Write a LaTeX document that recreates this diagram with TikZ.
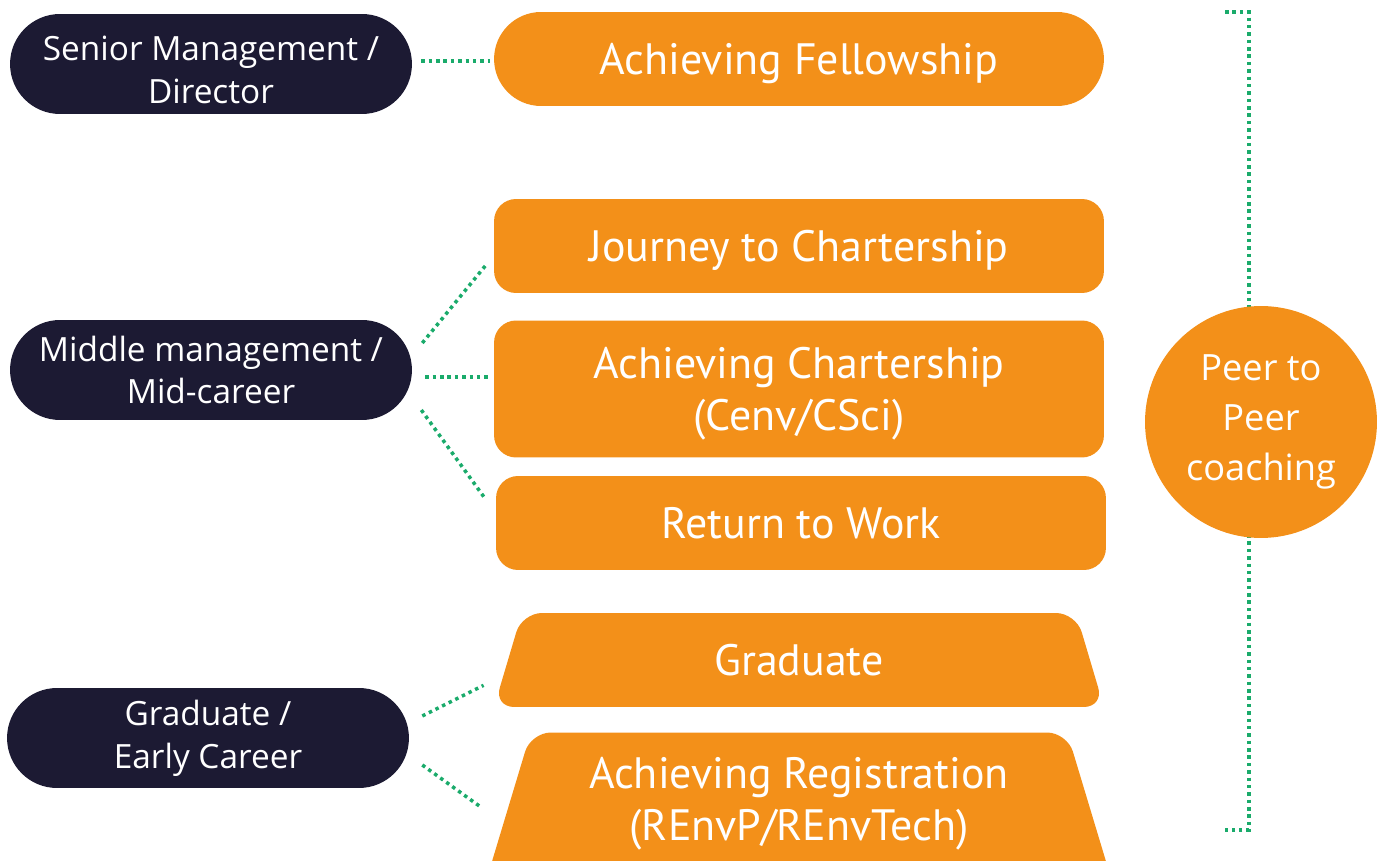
\documentclass[tikz,border=0pt]{standalone}
\usepackage{fontspec}
\setmainfont{Open Sans}
\newfontfamily\stagefont{PT Sans}
\usetikzlibrary{shapes.geometric,calc}
\definecolor{navy}{HTML}{1C1A33}
\definecolor{amber}{HTML}{F39019}
\definecolor{mint}{HTML}{1AAB6B}
\tikzstyle{level}=[rectangle,fill=navy,text=white,minimum width=8.04cm,minimum height=2cm,rounded corners=1cm,align=center,font=\fontsize{19}{24.4}\selectfont]
\tikzstyle{stage}=[rectangle,fill=amber,text=white,minimum width=12.2cm,minimum height=1.88cm,rounded corners=0.44cm,align=center,text depth=0pt,font=\stagefont\fontsize{25}{30}\selectfont]
\tikzstyle{ramp}=[stage,trapezium,trapezium angle=57,trapezium stretches body,rounded corners=0.4cm]
\tikzstyle{peer}=[circle,fill=amber,text=white,minimum size=4.64cm,inner sep=0pt,align=center,font=\fontsize{20.6}{28.4}\selectfont]
\tikzstyle{link}=[draw=mint,line width=2pt,dash pattern=on 2pt off 2.2pt]

\begin{document}
\begin{tikzpicture}[x=0.02cm,y=-0.02cm]
	\useasboundingbox (0,0) rectangle (1384,861);
	\def \lx {211};
	\def \sx {799};

	% career levels
	\node[level,text height=45pt,text depth=0pt] (senior) at (\lx,64) {Senior Management /\\Director};
	\node[level] (middle) at (\lx,370) {Middle management /\\Mid-career};
	\node[level] (early) at (\lx-3,738) {Graduate /\\Early Career};

	% programmes
	\node[stage,rounded corners=0.94cm] (fellow) at (\sx,59) {Achieving Fellowship};
	\node[stage] (journey) at (\sx,246) {Journey to Chartership};
	\node[stage,minimum height=2.74cm] (charter) at (\sx,389) {Achieving Chartership\\(Cenv/CSci)};
	\node[stage] (return) at (\sx+2,523) {Return to Work};
	\node[ramp] (grad) at (\sx,660) {Graduate};
	\node[ramp,trapezium angle=68,minimum width=12.5cm,minimum height=2.94cm,text depth=0.28cm] (reg) at (\sx,806) {Achieving Registration\\(REnvP/REnvTech)};

	\draw[link] ([shift={(9,-3)}]senior.east) -- ([shift={(-4,2)}]fellow.west);
	\draw[link] ([shift={(10,-27)}]middle.east) -- ([shift={(-8,-28)}]journey.south west);
	\draw[link] ([shift={(13,7)}]middle.east) -- ([shift={(-4,-12)}]charter.west);
	\draw[link] ([shift={(9,40)}]middle.east) -- ([shift={(-12,21)}]return.north west);
	\draw[link] ([shift={(13,-22)}]early.east) -- ([shift={(-10,-22)}]grad.bottom left corner);
	\draw[link] ([shift={(13,27)}]early.east) -- ([shift={(-7,-74)}]reg.bottom left corner);

	% bracket and coaching
	\coordinate (brt) at (1225,12);
	\coordinate (brb) at (1225,830);
	\draw[link] (brt) -- ++(24,0) |- (brb);
	\node[peer] (p2p) at (1261,422) {Peer to\\Peer\\coaching};
\end{tikzpicture}
\end{document}
